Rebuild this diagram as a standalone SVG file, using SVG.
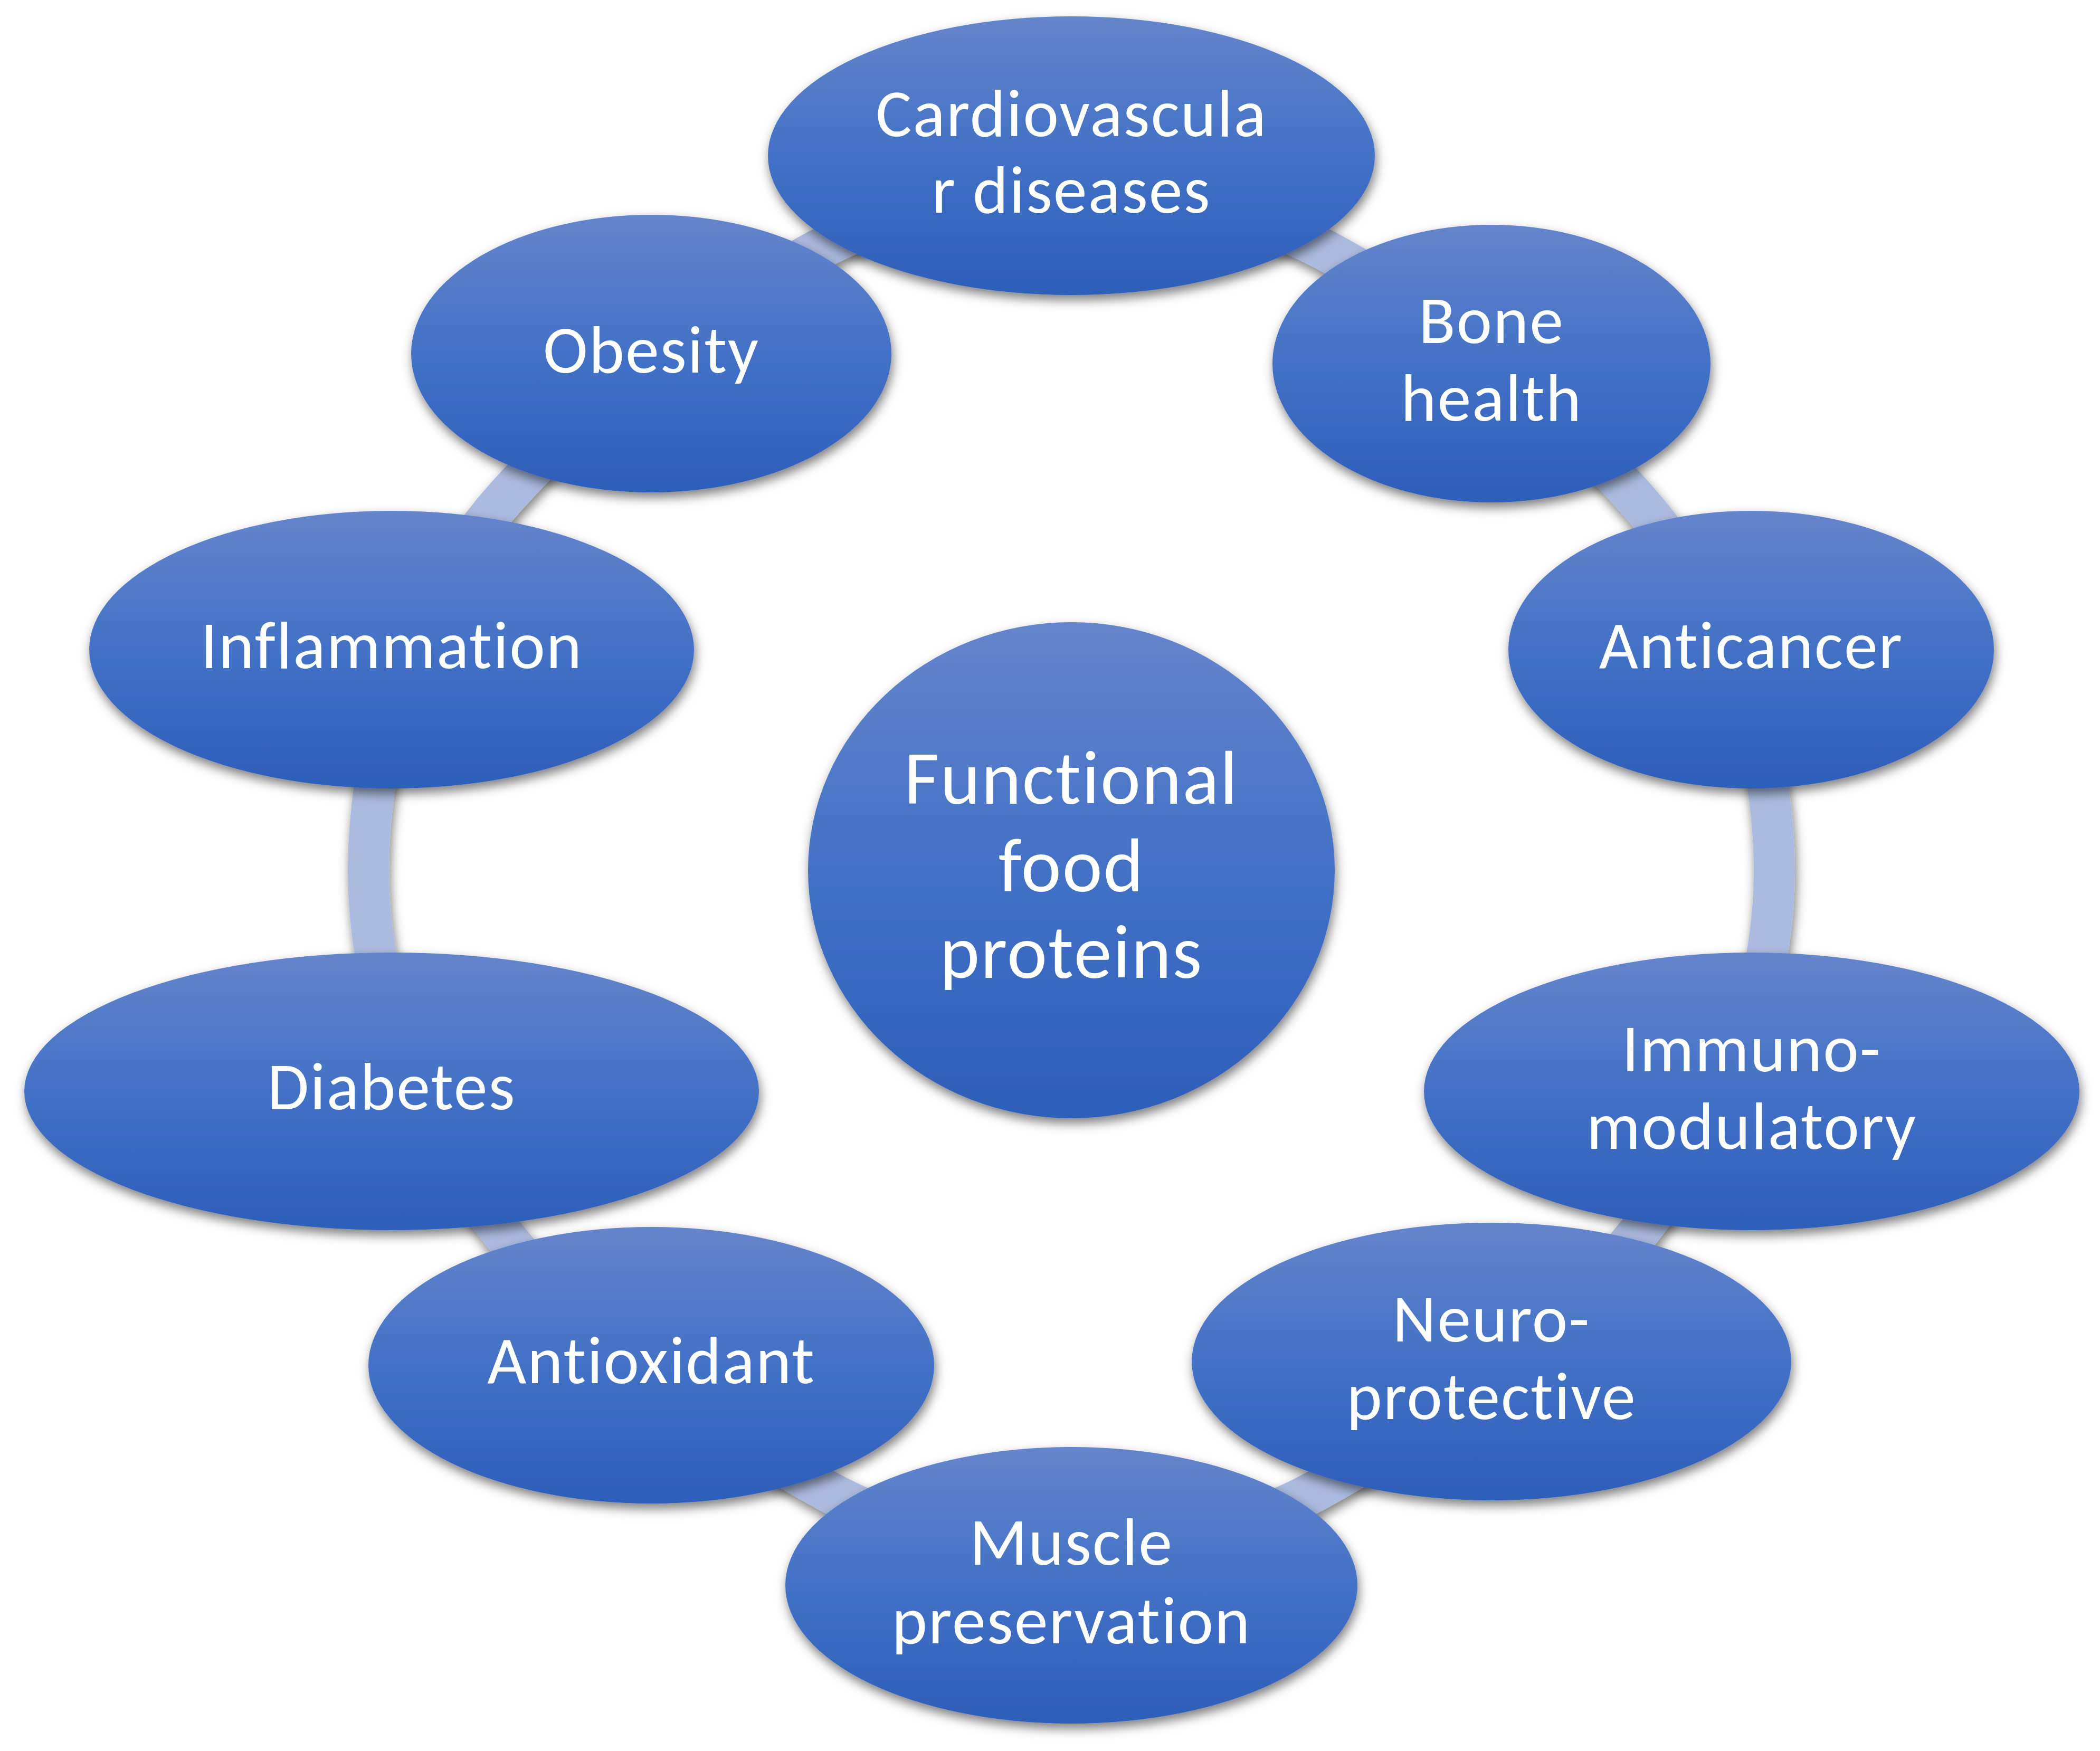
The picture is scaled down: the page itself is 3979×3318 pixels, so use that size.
<svg xmlns="http://www.w3.org/2000/svg" width="3979" height="3318" viewBox="0 0 3979 3318">
<defs>
<linearGradient id="nodeFill" x1="0" y1="0" x2="0" y2="1">
<stop offset="0" stop-color="#6585CC"/>
<stop offset="0.5" stop-color="#4371C6"/>
<stop offset="1" stop-color="#2D5EB9"/>
</linearGradient>
<filter id="shadow" x="-10%" y="-10%" width="120%" height="125%">
<feDropShadow dx="3" dy="10" stdDeviation="10" flood-color="#000" flood-opacity="0.5"/>
</filter>
</defs>
<style>
.node ellipse { fill: url(#nodeFill); filter: url(#shadow); }
.node text { fill: #FFFFFF; font-family: Carlito, Lato, "Open Sans", sans-serif; font-size: 128px; letter-spacing: 2px; font-variant-ligatures: none; text-anchor: middle; }
.center text { font-size: 144px; }
.ring { fill: none; stroke: #ABBADF; stroke-width: 78; filter: url(#shadow); }
</style>
<rect width="3979" height="3318" fill="#FFFFFF"/>
<g id="connectors">
<path class="ring" d="M2515,476 C2735,595 2933,759 3100,945 C3267,1131 3362,1400 3362,1650 C3362,1894 3258,2144 3105,2335 C2942,2539 2721,2700 2493,2825 C2223,2973 1837,2973 1567,2825 C1339,2700 1117,2543 955,2340 C802,2149 698,1895 698,1650 C698,1398 791,1127 960,940 C1127,755 1326,594 1545,476 C1829,323 2231,323 2515,476 Z"/>
</g>
<g id="node-cardiovascular" class="node">
<ellipse cx="2030" cy="295" rx="575" ry="264"/>
<text x="2030" y="258">Cardiovascula</text>
<text x="2030" y="403">r diseases</text>
</g>
<g id="node-bone" class="node">
<ellipse cx="2826" cy="689" rx="415" ry="263"/>
<text x="2826" y="650">Bone</text>
<text x="2826" y="797">health</text>
</g>
<g id="node-anticancer" class="node">
<ellipse cx="3318" cy="1231" rx="460" ry="263"/>
<text x="3318" y="1266">Anticancer</text>
</g>
<g id="node-immuno" class="node">
<ellipse cx="3319" cy="2068" rx="621" ry="263"/>
<text x="3319" y="2030">Immuno-</text>
<text x="3319" y="2177">modulatory</text>
</g>
<g id="node-neuro" class="node">
<ellipse cx="2826" cy="2580" rx="568" ry="263"/>
<text x="2826" y="2542">Neuro-</text>
<text x="2826" y="2689">protective</text>
</g>
<g id="node-muscle" class="node">
<ellipse cx="2030" cy="3004" rx="542" ry="262"/>
<text x="2030" y="2965">Muscle</text>
<text x="2030" y="3114">preservation</text>
</g>
<g id="node-antioxidant" class="node">
<ellipse cx="1234" cy="2587" rx="536" ry="262"/>
<text x="1234" y="2621">Antioxidant</text>
</g>
<g id="node-diabetes" class="node">
<ellipse cx="742" cy="2068" rx="696" ry="263"/>
<text x="742" y="2102">Diabetes</text>
</g>
<g id="node-inflammation" class="node">
<ellipse cx="742" cy="1231" rx="573" ry="263"/>
<text x="742" y="1266">Inflammation</text>
</g>
<g id="node-obesity" class="node">
<ellipse cx="1234" cy="670" rx="455" ry="263"/>
<text x="1234" y="706">Obesity</text>
</g>
<g id="node-center" class="node center">
<ellipse cx="2030" cy="1649" rx="499" ry="470"/>
<text x="2030" y="1523">Functional</text>
<text x="2030" y="1689">food</text>
<text x="2030" y="1853">proteins</text>
</g>
</svg>
